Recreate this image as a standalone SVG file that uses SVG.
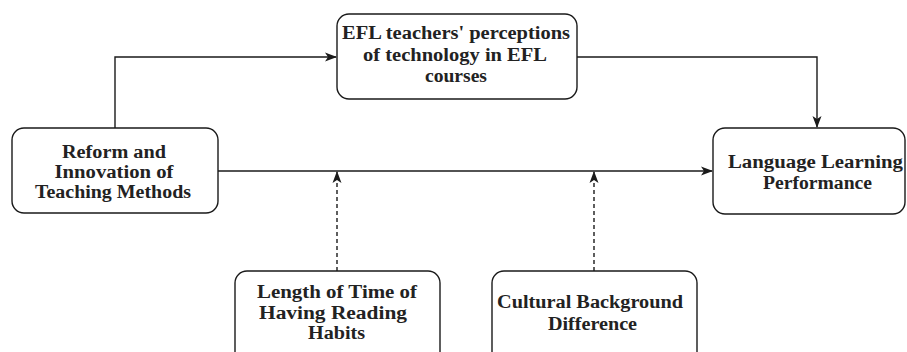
<svg xmlns="http://www.w3.org/2000/svg" width="907" height="352" viewBox="0 0 907 352">
<defs>
<style>
.box{fill:#fff;stroke:#1a1a1a;stroke-width:1.4}
.lbl{font-family:"Liberation Serif","Times New Roman",serif;font-weight:bold;font-size:18px;fill:#222;text-anchor:middle}
.edge{fill:none;stroke:#1a1a1a;stroke-width:1.4}
.dash{stroke-dasharray:4 3}
</style>
<marker id="arr" viewBox="0 0 12 10" refX="11" refY="5" markerWidth="12" markerHeight="10" markerUnits="userSpaceOnUse" orient="auto">
<path d="M0,0.5 L12,5 L0,9.5 L3,5 Z" fill="#1a1a1a"/>
</marker>
</defs>
<rect width="907" height="352" fill="#fff"/>
<g id="connectors">
<path class="edge" d="M115,128 V57 H336" marker-end="url(#arr)"/>
<path class="edge" d="M577,57 H817 V127" marker-end="url(#arr)"/>
<path class="edge" d="M218,171 H712" marker-end="url(#arr)"/>
<path class="edge dash" d="M337,271 V172" marker-end="url(#arr)"/>
<path class="edge dash" d="M594,271 V172" marker-end="url(#arr)"/>
</g>
<g id="reform">
<rect class="box" x="12" y="128" width="206" height="85" rx="12"/>
<text class="lbl" x="114" y="158" textLength="104" lengthAdjust="spacingAndGlyphs">Reform and</text>
<text class="lbl" x="114" y="178" textLength="119" lengthAdjust="spacingAndGlyphs">Innovation of</text>
<text class="lbl" x="113" y="198" textLength="156" lengthAdjust="spacingAndGlyphs">Teaching Methods</text>
</g>
<g id="efl">
<rect class="box" x="337" y="14" width="240" height="85" rx="12"/>
<text class="lbl" x="456" y="39" textLength="228" lengthAdjust="spacingAndGlyphs">EFL teachers' perceptions</text>
<text class="lbl" x="455" y="61" textLength="184" lengthAdjust="spacingAndGlyphs">of technology in EFL</text>
<text class="lbl" x="456" y="82" textLength="62" lengthAdjust="spacingAndGlyphs">courses</text>
</g>
<g id="performance">
<rect class="box" x="713" y="128" width="192" height="86" rx="12"/>
<text class="lbl" x="815.5" y="168" textLength="175" lengthAdjust="spacingAndGlyphs">Language Learning</text>
<text class="lbl" x="817.5" y="189" textLength="109" lengthAdjust="spacingAndGlyphs">Performance</text>
</g>
<g id="reading">
<rect class="box" x="235" y="271" width="205" height="95" rx="12"/>
<text class="lbl" x="337" y="298" textLength="160" lengthAdjust="spacingAndGlyphs">Length of Time of</text>
<text class="lbl" x="333" y="319" textLength="148" lengthAdjust="spacingAndGlyphs">Having Reading</text>
<text class="lbl" x="336.5" y="339" textLength="57" lengthAdjust="spacingAndGlyphs">Habits</text>
</g>
<g id="cultural">
<rect class="box" x="492" y="271" width="205" height="95" rx="12"/>
<text class="lbl" x="590" y="308" textLength="186" lengthAdjust="spacingAndGlyphs">Cultural Background</text>
<text class="lbl" x="592.5" y="330" textLength="89" lengthAdjust="spacingAndGlyphs">Difference</text>
</g>
</svg>
